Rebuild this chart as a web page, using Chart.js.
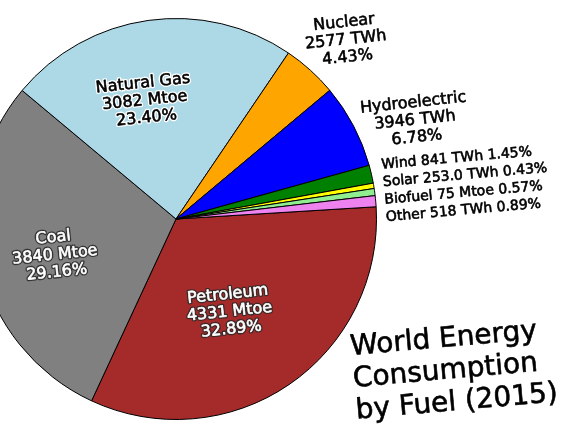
<!DOCTYPE html>
<html>
<head>
<meta charset="utf-8">
<script src="https://cdn.jsdelivr.net/npm/chart.js@4.4.0/dist/chart.umd.min.js"></script>
<style>
  html, body { margin: 0; padding: 0; background: #fff; overflow: hidden; }
  body { width: 573px; height: 430px; position: relative; }
  #wrap { position: absolute; left: -40px; top: 0; width: 613px; height: 430px; }
</style>
</head>
<body>
<div id="wrap"><canvas id="energyChart"></canvas></div>
<script>
// World energy consumption by fuel, 2015
const fuels = ['Petroleum', 'Coal', 'Natural Gas', 'Nuclear', 'Hydroelectric', 'Wind', 'Solar', 'Biofuel', 'Other'];
const shares = [32.89, 29.16, 23.40, 4.43, 6.78, 1.45, 0.43, 0.57, 0.89];
const amounts = ['4331 Mtoe', '3840 Mtoe', '3082 Mtoe', '2577 TWh', '3946 TWh', '841 TWh', '253.0 TWh', '75 Mtoe', '518 TWh'];
const colors = ['#a52a2a', '#808080', '#add8e6', '#ffa500', '#0000ff', '#008000', '#ffff00', '#90ee90', '#ee82ee'];
const titleLines = ['World Energy', 'Consumption', 'by Fuel (2015)'];

const FONT = '"DejaVu Sans", Verdana, sans-serif';
const SHIFT = 40; // canvas starts 40px left of the page

// label placement for the big slices: radius factor + angle tweak (deg)
const bigLabels = {
    0: { r: 0.535, da: 4.4, fill: '#fff', halo: 'rgba(40,40,40,0.85)' },
    1: { r: 0.63, da: -4, fill: '#fff', halo: 'rgba(40,40,40,0.85)' },
    2: { r: 0.61, da: -6.8, fill: '#000', halo: '#fff' },
    3: { r: 1.23, da: 1.4, fill: '#000', halo: null },
    4: { r: 1.29, da: 5.3, fill: '#000', halo: null }
};

function drawLine(ctx, text, x, y, fill, halo) {
    ctx.lineJoin = 'round';
    if (halo) {
        ctx.strokeStyle = halo;
        ctx.lineWidth = 3.2;
        ctx.strokeText(text, x, y);
    }
    // thin stroke in the fill colour to make the text a bit heavier
    ctx.strokeStyle = fill;
    ctx.lineWidth = 0.6;
    ctx.strokeText(text, x, y);
    ctx.fillStyle = fill;
    ctx.fillText(text, x, y);
}

const labelPlugin = {
    id: 'pieLabels',
    afterDatasetsDraw(chart) {
        const ctx = chart.ctx;
        const arcs = chart.getDatasetMeta(0).data;
        const tilt = -6 * Math.PI / 180;

        arcs.forEach((arc, i) => {
            const cx = arc.x, cy = arc.y, R = arc.outerRadius;
            const pct = shares[i].toFixed(2) + '%';
            if (bigLabels[i]) {
                const cfg = bigLabels[i];
                const a = (arc.startAngle + arc.endAngle) / 2 + cfg.da * Math.PI / 180;
                const x = cx + Math.cos(a) * R * cfg.r;
                const y = cy + Math.sin(a) * R * cfg.r;
                ctx.save();
                ctx.translate(x, y);
                ctx.rotate(tilt);
                ctx.font = '16px ' + FONT;
                ctx.textAlign = 'center';
                ctx.textBaseline = 'middle';
                const lines = [fuels[i], amounts[i], pct];
                lines.forEach((t, k) => drawLine(ctx, t, 0, (k - 1) * 17.5, cfg.fill, cfg.halo));
                ctx.restore();
            } else {
                // small slices listed to the right of the pie
                const k = i - 5;
                const x = cx + R + 5 + k * 1.5;
                const y = cy - 54 + k * 17.5;
                ctx.save();
                ctx.translate(x, y);
                ctx.rotate(-5 * Math.PI / 180);
                ctx.font = '14px ' + FONT;
                ctx.textAlign = 'left';
                ctx.textBaseline = 'middle';
                drawLine(ctx, fuels[i] + ' ' + amounts[i] + ' ' + pct, 0, 0, '#000', null);
                ctx.restore();
            }
        });

        // title, bottom right
        ctx.save();
        ctx.translate(351 + SHIFT, 355);
        ctx.rotate(-5 * Math.PI / 180);
        ctx.font = '28px ' + FONT;
        ctx.textAlign = 'left';
        ctx.textBaseline = 'alphabetic';
        titleLines.forEach((t, k) => drawLine(ctx, t, 0, k * 32, '#000', null));
        ctx.restore();
    }
};

document.addEventListener('DOMContentLoaded', function() {
    const ctx = document.getElementById('energyChart').getContext('2d');
    new Chart(ctx, {
        type: 'pie',
        data: {
            labels: fuels,
            datasets: [{
                data: shares,
                backgroundColor: colors,
                borderColor: '#000',
                borderWidth: 1
            }]
        },
        options: {
            responsive: true,
            maintainAspectRatio: false,
            animation: false,
            rotation: 86.5,
            layout: {
                padding: { top: 18, bottom: 10, left: 15, right: 196 }
            },
            plugins: {
                legend: { display: false },
                tooltip: { enabled: false }
            },
            events: []
        },
        plugins: [labelPlugin]
    });
});
</script>
</body>
</html>
